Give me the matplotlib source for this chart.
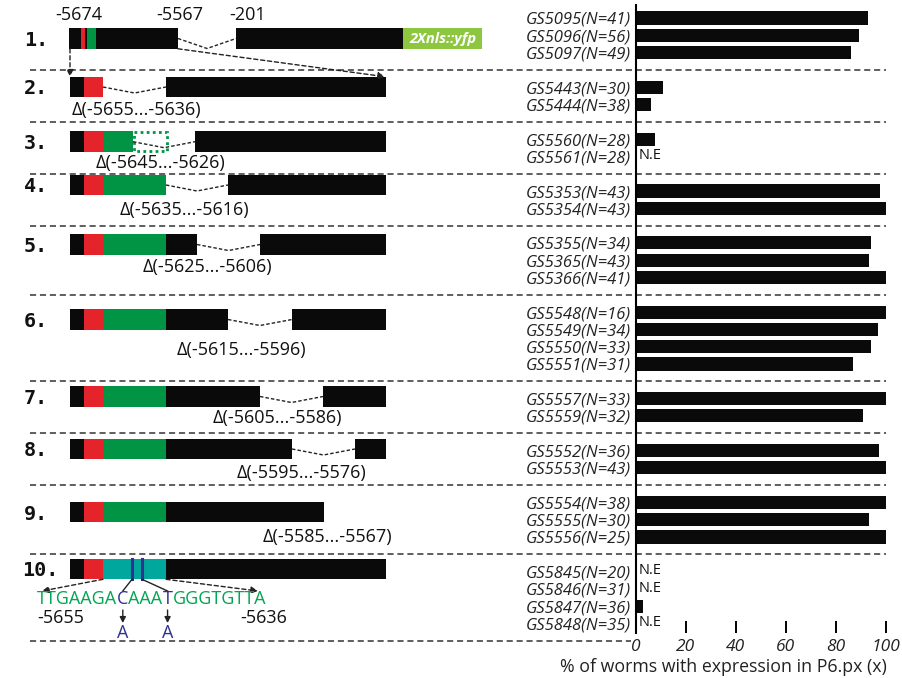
import matplotlib
matplotlib.use("Agg")
import matplotlib.pyplot as plt
import matplotlib.transforms as mtransforms
from matplotlib.patches import Rectangle

plt.rcParams['font.family'] = ['Open Sans', 'DejaVu Sans']

# ---------------- data ----------------
strains = ["GS5095", "GS5096", "GS5097",
           "GS5443", "GS5444",
           "GS5560", "GS5561",
           "GS5353", "GS5354",
           "GS5355", "GS5365", "GS5366",
           "GS5548", "GS5549", "GS5550", "GS5551",
           "GS5557", "GS5559",
           "GS5552", "GS5553",
           "GS5554", "GS5555", "GS5556",
           "GS5845", "GS5846", "GS5847", "GS5848"]
n_worms = [41, 56, 49, 30, 38, 28, 28, 43, 43, 34, 43, 41, 16, 34, 33, 31,
           33, 32, 36, 43, 38, 30, 25, 20, 31, 36, 35]
# None = no expression (N.E)
pct_expr = [92.7, 89.4, 85.9, 10.9, 6.1, 7.6, None, 97.6, 100, 94.0, 93.1, 100,
            100, 96.9, 93.9, 87.0, 100, 91.0, 97.2, 100, 100, 93.4, 100,
            None, None, 3.1, None]
group_sizes = [3, 2, 2, 2, 3, 4, 2, 2, 3, 4]
x_ticks = [0, 20, 40, 60, 80, 100]
xlabel = "% of worms with expression in P6.px (x)"

construct_labels = ["1.", "2.", "3.", "4.", "5.", "6.", "7.", "8.", "9.", "10."]
deletions = [None, "Δ(-5655...-5636)", "Δ(-5645...-5626)", "Δ(-5635...-5616)",
             "Δ(-5625...-5606)", "Δ(-5615...-5596)", "Δ(-5605...-5586)",
             "Δ(-5595...-5576)", "Δ(-5585...-5567)", None]
top_positions = ["-5674", "-5567", "-201"]
sequence = "TTGAAGACAAATGGGTGTTA"
mutated_idx = [7, 11]
mutated_to = ["A", "A"]
seq_ends = ["-5655", "-5636"]

# ---------------- colours ----------------
K = "#0a0a0a"
RED = "#e5232a"
GRN = "#009444"
TEAL = "#00a79d"
LGRN = "#8dc63f"
BLUE = "#2e3192"
SEQG = "#00a651"

# slot positions (one blank slot between groups)
slots, seps = [], []
s = 0
for g in group_sizes:
    for i in range(g):
        slots.append(s + i)
    s += g
    seps.append(s)
    s += 1

fig = plt.figure(figsize=(9.02, 6.78), dpi=100)
ov = fig.add_axes([0, 0, 1, 1])
ov.set_xlim(0, 902)
ov.set_ylim(678, 0)
ov.axis("off")

# bar axes
y_top_px, y_bot_px = 5, 633
slot0_px, slot_h = 18.0, 17.3
ylo = (y_bot_px - slot0_px) / slot_h
yhi = (y_top_px - slot0_px) / slot_h
axb = fig.add_axes([635.5 / 902, (678 - y_bot_px) / 678, 250.5 / 902,
                    (y_bot_px - y_top_px) / 678])
axb.set_xlim(0, 100)
axb.set_ylim(ylo, yhi)
vals = [v if v is not None else 0 for v in pct_expr]
axb.barh(slots, vals, height=0.76, color=K)
for sl, v in zip(slots, pct_expr):
    if v is None:
        axb.text(1.2, sl - 0.05, "N.E", fontsize=10.5, ha="left", va="center", color="#111")
axb.set_yticks(slots)
axb.set_yticklabels([f"{a}(N={n})" for a, n in zip(strains, n_worms)],
                    fontsize=12, fontstyle="italic", color="#222")
axb.tick_params(axis="y", length=0, pad=3)
axb.set_xticks(x_ticks)
axb.set_xticklabels([str(t) for t in x_ticks], fontsize=12.5, fontstyle="italic", color="#222")
axb.tick_params(axis="x", direction="in", length=9, width=1.4, pad=4)
for sp in ["top", "right", "bottom"]:
    axb.spines[sp].set_visible(False)
axb.spines["left"].set_linewidth(1.5)
axb.patch.set_alpha(0)
fig.text(723 / 902, 1 - 667 / 678, xlabel, fontsize=12.8, ha="center", va="center", color="#222")

# separators (y from slot scale, x in pixels)
tr = mtransforms.blended_transform_factory(ov.transData, axb.transData)
for i, sp in enumerate(seps):
    x_end = 631 if i == len(seps) - 1 else 886
    ov.plot([30, x_end], [sp, sp], transform=tr, color="#333", lw=1.1,
            ls=(0, (4, 2.5)), clip_on=False)

# ---------------- schematic ----------------
row_y = [38.5, 87, 141.7, 185, 244.5, 319.5, 396.5, 449, 512, 569]
hh = 10.3
head = [(70, 84, K), (84, 103, RED)]
segments = [
    [(69, 81, K), (81, 85, RED), (85, 87, K), (87, 96, GRN), (96, 178, K), (236, 403, K), (403, 482, LGRN)],
    head + [(166, 386, K)],
    head + [(103, 133, GRN), (195, 386, K)],
    head + [(103, 166, GRN), (228, 386, K)],
    head + [(103, 166, GRN), (166, 197, K), (260, 386, K)],
    head + [(103, 166, GRN), (166, 228, K), (292, 386, K)],
    head + [(103, 166, GRN), (166, 260, K), (323, 386, K)],
    head + [(103, 166, GRN), (166, 292, K), (355, 386, K)],
    head + [(103, 166, GRN), (166, 324, K)],
    head + [(103, 166, TEAL), (166, 386, K)],
]
gaps = [(178, 236), (103, 166), (133, 195), (166, 228), (197, 260), (228, 292),
        (260, 323), (292, 355), None, None]
del_pos = [None, (72, 110), (96, 163), (120, 210), (143, 267), (177, 350),
           (213, 418), (237, 473), (263, 537), None]

for r in range(10):
    yc = row_y[r]
    for x0, x1, c in segments[r]:
        ov.add_patch(Rectangle((x0, yc - hh), x1 - x0, 2 * hh, facecolor=c,
                               edgecolor="none"))
    if gaps[r] is not None:
        a, b = gaps[r]
        dip = 10 if r == 0 else 6
        ov.plot([a, (a + b) / 2, b], [yc, yc + dip, yc], color="#222", lw=1.0,
                ls=(0, (2.5, 1.5)))
    ov.text(22 if r == 9 else 24, yc + 2, construct_labels[r], fontsize=14.5,
            family="DejaVu Sans Mono", fontweight="bold", ha="left", va="center",
            color="#111")
    if deletions[r] is not None:
        x, y = del_pos[r]
        ov.text(x, y, deletions[r], fontsize=13, ha="left", va="center", color="#111")

# row1 extras
ov.text(443, row_y[0], "2Xnls::yfp", fontsize=10.5, fontweight="bold", fontstyle="italic",
        color="white", ha="center", va="center")
for t, x in zip(top_positions, [79, 180, 248]):
    ov.text(x, 15, t, fontsize=13, ha="center", va="center", color="#111")
arrow_kw = dict(arrowstyle="-|>,head_length=0.4,head_width=0.2", color="#222",
                lw=1.0, ls=(0, (3, 2)), shrinkA=0, shrinkB=0)
ov.annotate("", xy=(70, row_y[1] - hh), xytext=(70, row_y[0] + hh), arrowprops=arrow_kw)
ov.annotate("", xy=(385, row_y[1] - hh), xytext=(178, row_y[0] + hh), arrowprops=arrow_kw)

# row3 dotted box
ov.add_patch(Rectangle((134, row_y[2] - hh + 1), 33, 2 * hh - 2, facecolor="none",
                       edgecolor=GRN, lw=2, ls=(0, (1, 1.2))))

# row10 extras
y10 = row_y[9]
for bx in [132, 142]:
    ov.plot([bx, bx], [y10 - hh, y10 + hh], color=BLUE, lw=2.2)
ov.annotate("", xy=(42, 591), xytext=(103, y10 + hh), arrowprops=arrow_kw)
ov.annotate("", xy=(258, 591), xytext=(166, y10 + hh), arrowprops=arrow_kw)

fig.canvas.draw()
renderer = fig.canvas.get_renderer()
xc = 37
seq_y = 599
letter_x = {}
parts = []
prev = 0
for idx in mutated_idx:
    parts.append((sequence[prev:idx], SEQG, None))
    parts.append((sequence[idx], BLUE, idx))
    prev = idx + 1
parts.append((sequence[prev:], SEQG, None))
inv = ov.transData.inverted()
for txt, col, idx in parts:
    t = ov.text(xc, seq_y, txt, fontsize=13, color=col, ha="left", va="center")
    bb = t.get_window_extent(renderer)
    x0d = inv.transform((bb.x0, bb.y0))[0]
    x1d = inv.transform((bb.x1, bb.y0))[0]
    if idx is not None:
        letter_x[idx] = (x0d + x1d) / 2
    xc = x1d

for bx, idx, new in zip([132, 142], mutated_idx, mutated_to):
    lx = letter_x[idx]
    ov.plot([bx, lx], [y10 + hh, 591], color="#222", lw=1.0)
    ov.annotate("", xy=(lx, 623), xytext=(lx, 610),
                arrowprops=dict(arrowstyle="-|>,head_length=0.35,head_width=0.18",
                                color="#222", lw=1.0, shrinkA=0, shrinkB=0))
    ov.text(lx, 633, new, fontsize=13, color=BLUE, ha="center", va="center")
ov.text(37, 618, seq_ends[0], fontsize=13, ha="left", va="center", color="#111")
ov.text(240, 618, seq_ends[1], fontsize=13, ha="left", va="center", color="#111")

fig.savefig("out.png", dpi=100)
